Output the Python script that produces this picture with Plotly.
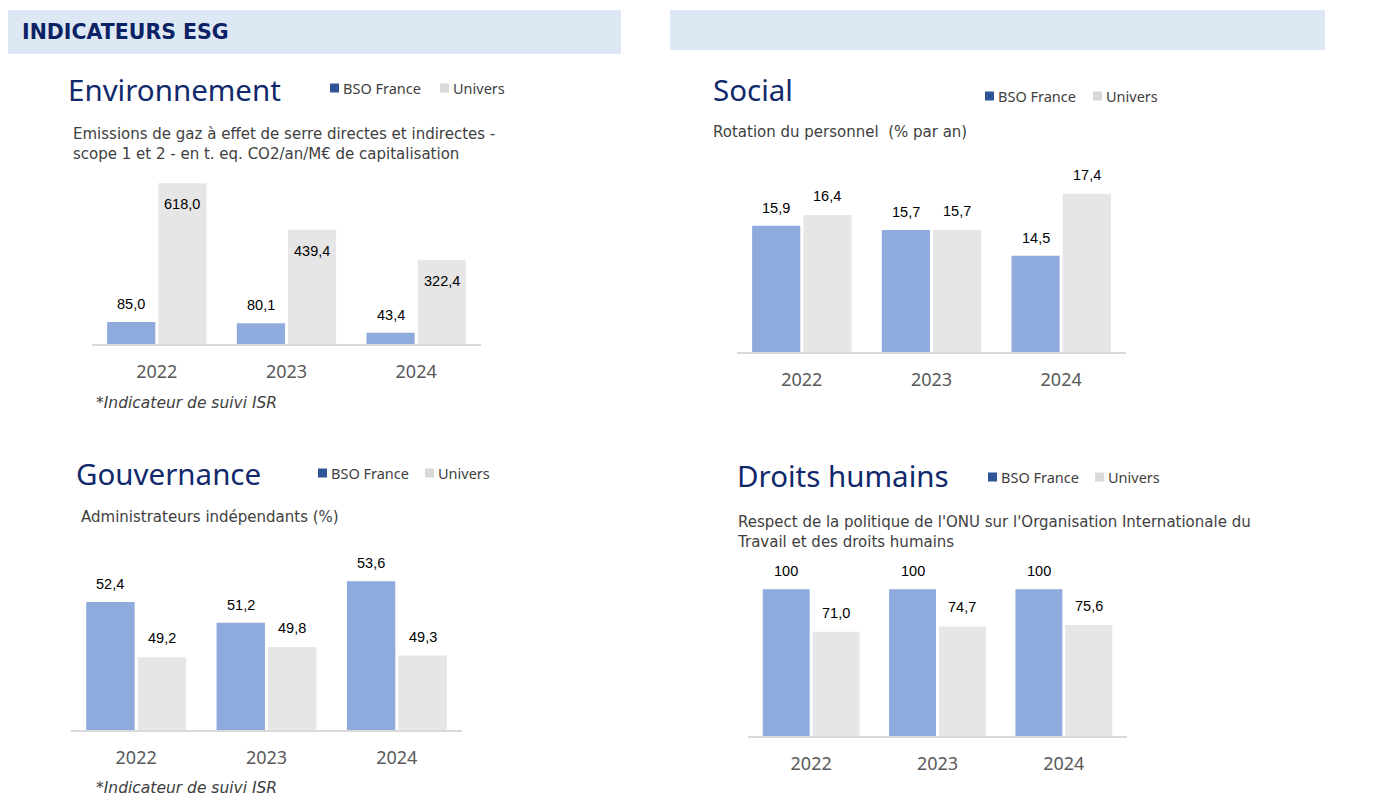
import plotly.graph_objects as go

W, H = 1384, 795      # figure size (page has an 8px body margin)
OFF = 8

# ---------------- data ----------------
years = ["2022", "2023", "2024"]
series_names = ["BSO France", "Univers"]

env_bso = [85.0, 80.1, 43.4]
env_univ = [618.0, 439.4, 322.4]

soc_bso = [15.9, 15.7, 14.5]
soc_univ = [16.4, 15.7, 17.4]

gov_bso = [52.4, 51.2, 53.6]
gov_univ = [49.2, 49.8, 49.3]

dh_bso = [100, 100, 100]
dh_univ = [71.0, 74.7, 75.6]

# ---------------- styles ----------------
BAR_BLUE = "#8FAADC"
BAR_GREY = "#E6E6E6"
LEG_BLUE = "#2F5597"
LEG_GREY = "#D9D9D9"
NAVY = "#10296B"
TXT = "#404040"
TICK = "#595959"
BAND = "#DEE8F4"
BARGAP = 0.21
BARGROUPGAP = 0.06


def px(x):
    return (x - OFF) / W


def py(y):
    return 1 - (y - OFF) / H


def fmt(v):
    if isinstance(v, int):
        return str(v)
    return f"{v:.1f}".replace(".", ",")


panels = [
    dict(title="Environnement", tx=68, ty=90,
         sub="Emissions de gaz à effet de serre directes et indirectes -<br>scope 1 et 2 - en t. eq. CO2/an/M€ de capitalisation",
         sx=73, sy=123,
         leg=(330, 88, 440),
         bso=env_bso, univ=env_univ,
         xd=(92, 481), yd=(162, 344), yr=(0, 700),
         univ_inside=True,
         foot=(96, 403)),
    dict(title="Social", tx=713, ty=90,
         sub="Rotation du personnel  (% par an)",
         sx=713, sy=121,
         leg=(985, 96, 1093),
         bso=soc_bso, univ=soc_univ,
         xd=(737, 1126), yd=(138, 352), yr=(10, 20),
         univ_inside=False, foot=None),
    dict(title="Gouvernance", tx=76, ty=473,
         sub="Administrateurs indépendants (%)",
         sx=81, sy=506,
         leg=(318, 473, 425),
         bso=gov_bso, univ=gov_univ,
         xd=(71, 462), yd=(557, 730), yr=(45, 55),
         univ_inside=False,
         foot=(96, 788)),
    dict(title="Droits humains", tx=737, ty=475,
         sub="Respect de la politique de l'ONU sur l'Organisation Internationale du<br>Travail et des droits humains",
         sx=737, sy=511,
         leg=(988, 477, 1095),
         bso=dh_bso, univ=dh_univ,
         xd=(748, 1127), yd=(560, 736), yr=(0, 120),
         univ_inside=False, foot=None),
]

fig = go.Figure()
annotations = []
shapes = []

# header bands
shapes.append(dict(type="rect", xref="paper", yref="paper",
                   x0=px(6), x1=px(621), y0=py(54), y1=py(10),
                   fillcolor=BAND, line_width=0, layer="below"))
shapes.append(dict(type="rect", xref="paper", yref="paper",
                   x0=px(670), x1=px(1325), y0=py(50), y1=py(10),
                   fillcolor=BAND, line_width=0, layer="below"))
annotations.append(dict(text="<b>INDICATEURS ESG</b>", xref="paper", yref="paper",
                        x=px(20), y=py(32), xanchor="left", yanchor="middle",
                        showarrow=False,
                        font=dict(family="DejaVu Sans", size=20.5, color="#0B2265")))

d = (1 - BARGAP) / 4
layout_axes = {}
for i, p in enumerate(panels):
    n = "" if i == 0 else str(i + 1)
    xa, ya = "x" + n, "y" + n
    layout_axes["xaxis" + n] = dict(
        domain=[px(p["xd"][0]), px(p["xd"][1])], anchor=ya, type="category",
        showline=True, linecolor="#D9D9D9", linewidth=2,
        ticks="outside", ticklen=10, tickcolor="rgba(0,0,0,0)",
        tickfont=dict(family="Noto Sans", size=18, color=TICK),
        showgrid=False, zeroline=False, fixedrange=True)
    layout_axes["yaxis" + n] = dict(
        domain=[py(p["yd"][1]), py(p["yd"][0])], anchor=xa,
        range=list(p["yr"]), visible=False, showgrid=False, zeroline=False,
        fixedrange=True)

    fig.add_trace(go.Bar(x=years, y=p["bso"], name=series_names[0],
                         marker=dict(color=BAR_BLUE, line=dict(width=0)),
                         xaxis=xa, yaxis=ya, showlegend=False, hoverinfo="skip"))
    fig.add_trace(go.Bar(x=years, y=p["univ"], name=series_names[1],
                         marker=dict(color=BAR_GREY, line=dict(width=0)),
                         xaxis=xa, yaxis=ya, showlegend=False, hoverinfo="skip"))

    # value labels
    for k, (vb, vu) in enumerate(zip(p["bso"], p["univ"])):
        annotations.append(dict(text=fmt(vb), x=k - d, y=vb, xref=xa, yref=ya,
                                xanchor="center", yanchor="middle", yshift=18,
                                showarrow=False,
                                font=dict(family="Liberation Sans", size=14.5, color="#000000")))
        annotations.append(dict(text=fmt(vu), x=k + d, y=vu, xref=xa, yref=ya,
                                xanchor="center", yanchor="middle",
                                yshift=-21 if p["univ_inside"] else 19,
                                showarrow=False,
                                font=dict(family="Liberation Sans", size=14.5, color="#000000")))

    # title
    annotations.append(dict(text=p["title"], xref="paper", yref="paper",
                            x=px(p["tx"] - 2), y=py(p["ty"]), xanchor="left", yanchor="middle",
                            showarrow=False,
                            font=dict(family="Noto Sans", size=29.5, color=NAVY)))
    # subtitle
    annotations.append(dict(text=p["sub"], xref="paper", yref="paper",
                            x=px(p["sx"] - 2), y=py(p["sy"]), xanchor="left", yanchor="top",
                            align="left", showarrow=False,
                            font=dict(family="DejaVu Sans", size=15, color=TXT)))
    # legend
    lx, ly, lx2 = p["leg"]
    for sx_, col, name in ((lx, LEG_BLUE, series_names[0]), (lx2, LEG_GREY, series_names[1])):
        shapes.append(dict(type="rect", xref="paper", yref="paper",
                           x0=px(sx_), x1=px(sx_ + 9), y0=py(ly + 4.5), y1=py(ly - 4.5),
                           fillcolor=col, line_width=0))
        annotations.append(dict(text=name, xref="paper", yref="paper",
                                x=px(sx_ + 11), y=py(ly), xanchor="left", yanchor="middle",
                                showarrow=False,
                                font=dict(family="Noto Sans", size=14.5, color=TXT)))
    # footnote
    if p["foot"]:
        fx, fy = p["foot"]
        annotations.append(dict(text="<i>*Indicateur de suivi ISR</i>", xref="paper", yref="paper",
                                x=px(fx - 2), y=py(fy), xanchor="left", yanchor="middle",
                                showarrow=False,
                                font=dict(family="DejaVu Sans", size=15.5, color=TXT)))

fig.update_layout(
    width=W, height=H,
    margin=dict(l=0, r=0, t=0, b=0),
    paper_bgcolor="white", plot_bgcolor="white",
    barmode="group", bargap=BARGAP, bargroupgap=BARGROUPGAP,
    showlegend=False,
    annotations=annotations, shapes=shapes,
    **layout_axes,
)

fig.write_html("out.html", config={"displayModeBar": False})
